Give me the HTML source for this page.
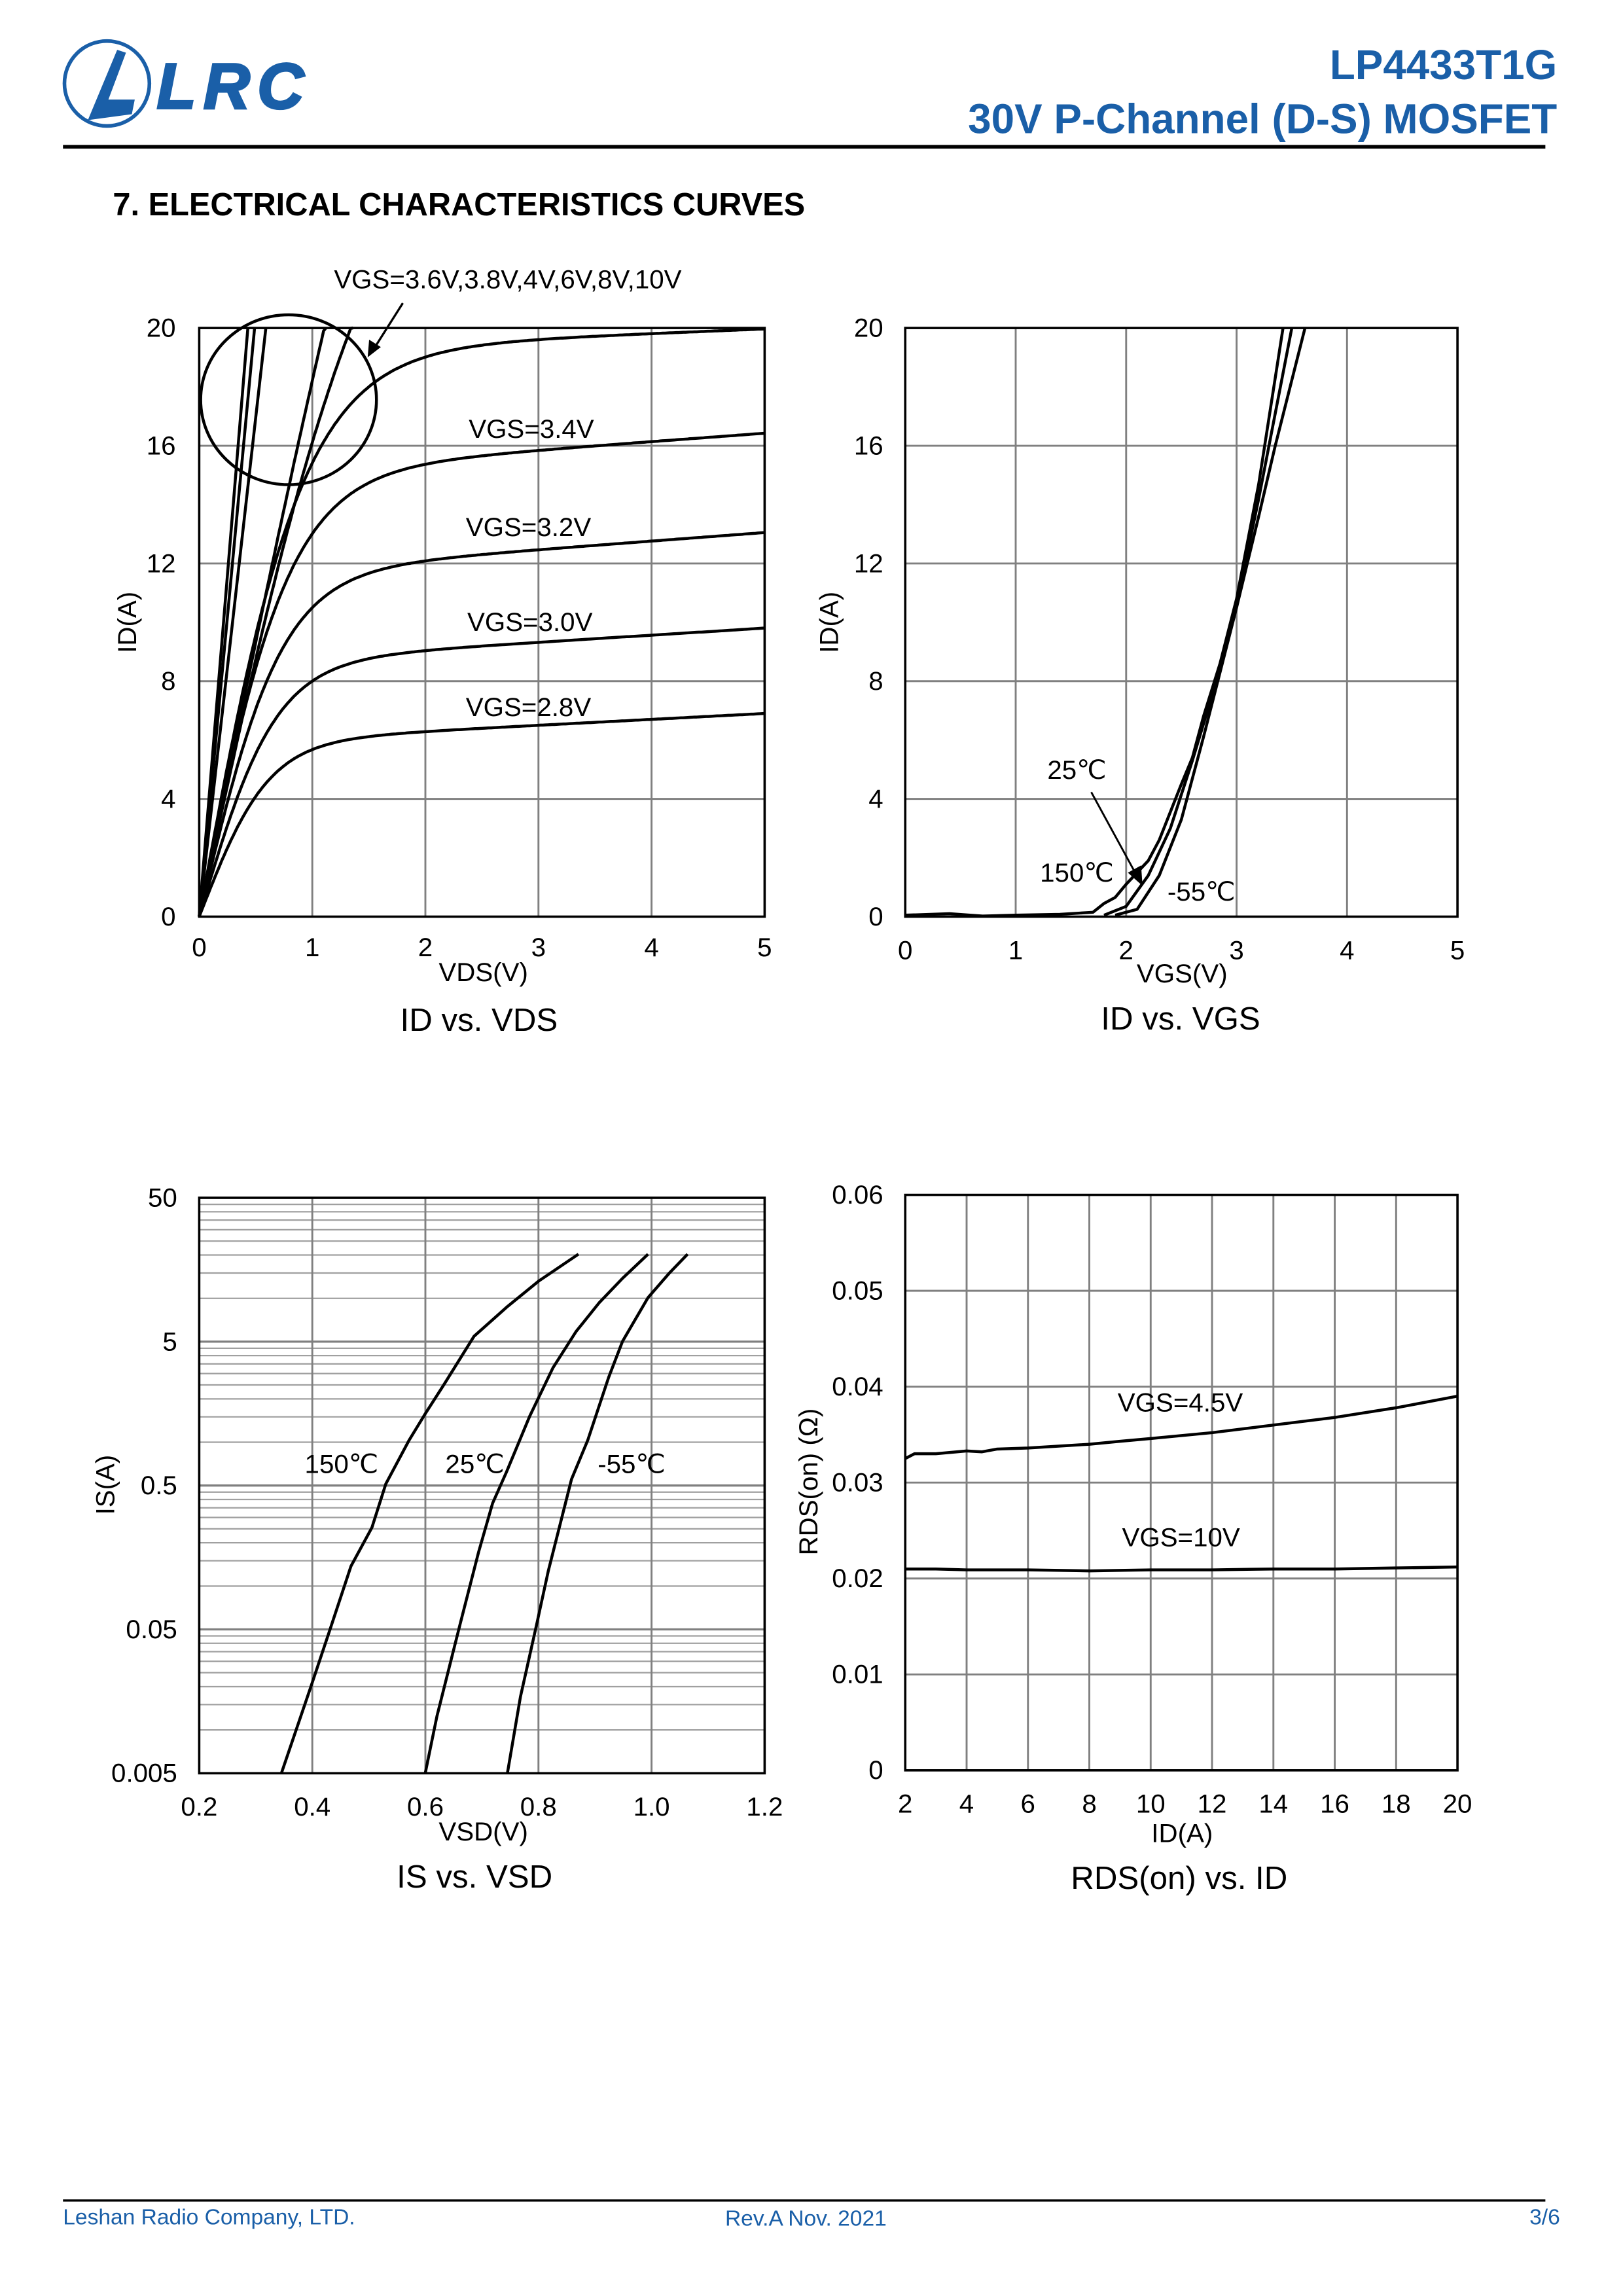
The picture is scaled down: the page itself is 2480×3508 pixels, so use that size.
<!DOCTYPE html>
<html><head><meta charset="utf-8">
<style>
html,body{margin:0;padding:0;background:#fff;}
svg{display:block;}
text{font-family:"Liberation Sans",Arial,sans-serif;}
</style></head>
<body>
<svg id="s" width="2480" height="3508" viewBox="0 0 1108 1568" preserveAspectRatio="none" xmlns="http://www.w3.org/2000/svg">
<rect width="1108" height="1568" fill="#fff"/>
<!-- header -->
<circle cx="73" cy="57" r="29" fill="none" stroke="#1a5fa8" stroke-width="2.5"/>
<path d="M60 82 L80 34 L86 36 L74 68 L92 68 L90 78 Z" fill="#1a5fa8"/>
<text x="107" y="74" font-size="44" font-weight="bold" font-style="italic" fill="#1a5fa8" letter-spacing="5" stroke="#1a5fa8" stroke-width="1.5">LRC</text>
<text x="1063" y="54" font-size="28.5" font-weight="bold" fill="#1a5fa8" text-anchor="end">LP4433T1G</text>
<text x="1063" y="91" font-size="28.5" font-weight="bold" fill="#1a5fa8" text-anchor="end">30V P-Channel (D-S) MOSFET</text>
<rect x="43" y="99" width="1012" height="2.5" fill="#000"/>
<text x="77" y="147" font-size="21.8" font-weight="bold">7. ELECTRICAL CHARACTERISTICS CURVES</text>
<g id="g"></g>
<!-- footer -->
<rect x="43" y="1502" width="1012" height="1.5" fill="#000"/>
<text x="43" y="1519" font-size="15" fill="#1a5fa8">Leshan Radio Company, LTD.</text>
<text x="495" y="1520" font-size="15" fill="#1a5fa8">Rev.A  Nov. 2021</text>
<text x="1065" y="1519" font-size="15" fill="#1a5fa8" text-anchor="end">3/6</text>
</svg>
<script>
var o='';
var FS=18;
function L(x1,y1,x2,y2,c,w){o+='<line x1="'+x1+'" y1="'+y1+'" x2="'+x2+'" y2="'+y2+'" stroke="'+c+'" stroke-width="'+w+'"/>';}
function T(x,y,s,t,a,ex){o+='<text x="'+x+'" y="'+y+'" font-size="'+s+'" text-anchor="'+(a||'start')+'" '+(ex||'')+'>'+t+'</text>';}
function P(pts,w){o+='<path d="M'+pts.map(function(p){return p[0].toFixed(1)+' '+p[1].toFixed(1)}).join(' L')+'" fill="none" stroke="#000" stroke-width="'+(w||2)+'" stroke-linejoin="round"/>';}
function frame(x0,y0,x1,y1){o+='<rect x="'+x0+'" y="'+y0+'" width="'+(x1-x0)+'" height="'+(y1-y0)+'" fill="none" stroke="#000" stroke-width="1.6"/>';}
var G='#808080';
// ---- Plot 1
var a0=136,a1=522,b0=224,b1=626;
for(var i=1;i<5;i++){var x=a0+i*(a1-a0)/5;L(x,b0,x,b1,G,1.3);}
for(var i=1;i<5;i++){var y=b1-i*(b1-b0)/5;L(a0,y,a1,y,G,1.3);}
frame(a0,b0,a1,b1);
for(var i=0;i<=5;i++){T(a0+i*(a1-a0)/5,653,FS,i,'middle');T(120,b1-i*(b1-b0)/5+6,FS,i*4,'end');}
T(330,670,FS,'VDS(V)','middle');T(327,704,22,'ID vs. VDS','middle');
T(93,425,FS,'ID(A)','middle','transform="rotate(-90 93 425)"');
function X1(v){return a0+v*(a1-a0)/5;} function Y1(i){return b1-i*(b1-b0)/20;}
function curve(Is,lam,g){var p=[];for(var v=0;v<=5.001;v+=0.02){var I=Is*(1+lam*v)*Math.tanh(g*v/Is);if(I>20){p.push([X1(v),Y1(20)]);break;}p.push([X1(v),Y1(I)]);}return p;}
P(curve(5.9,0.034,9.8));P(curve(8.6,0.028,12.9));P(curve(11.6,0.025,16.1));P(curve(15,0.019,18.9));P(curve(19.2,0.008,20.9));
P(curve(30,0,18));P(curve(60,0,18.8));
[0.43,0.49,0.59].forEach(function(v){P([[X1(0),Y1(0)],[X1(v),Y1(20)]]);});
T(320,299,FS,'VGS=3.4V');T(318,366,FS,'VGS=3.2V');T(319,431,FS,'VGS=3.0V');T(318,489,FS,'VGS=2.8V');
T(228,197,FS,'VGS=3.6V,3.8V,4V,6V,8V,10V');
o+='<ellipse cx="197" cy="273" rx="60" ry="58" fill="none" stroke="#000" stroke-width="2"/>';
L(275,207,256,237,'#000',1.5);o+='<path d="M251 244 L252 232 L260 237 Z" fill="#000"/>';
// ---- Plot 2
var c0=618,c1=995;
for(var i=1;i<5;i++){var x=c0+i*(c1-c0)/5;L(x,b0,x,b1,G,1.3);}
for(var i=1;i<5;i++){var y=b1-i*(b1-b0)/5;L(c0,y,c1,y,G,1.3);}
frame(c0,b0,c1,b1);
for(var i=0;i<=5;i++){T(c0+i*(c1-c0)/5,655,FS,i,'middle');T(603,b1-i*(b1-b0)/5+6,FS,i*4,'end');}
T(807,671,FS,'VGS(V)','middle');T(806,703,22,'ID vs. VGS','middle');
T(572,425,FS,'ID(A)','middle','transform="rotate(-90 572 425)"');
function X2(v){return c0+v*(c1-c0)/5;}
function sm(pts){var p=[];for(var k=0;k<pts.length;k++)p.push([X2(pts[k][0]),Y1(pts[k][1])]);return p;}
P(sm([[0,0.05],[0.4,0.1],[0.7,0.02],[1,0.05],[1.4,0.08],[1.7,0.15],[1.8,0.45],[1.9,0.65],[2.0,1.1],[2.2,1.9],[2.3,2.6],[2.5,4.5],[2.6,5.4],[2.7,6.8],[2.85,8.6],[3.0,10.8],[3.2,14.7],[3.42,20]]));
P(sm([[1.8,0.05],[2.0,0.35],[2.2,1.4],[2.4,3],[2.6,5.3],[2.85,8.4],[3.0,10.6],[3.2,14.2],[3.5,20]]));
P(sm([[1.9,0.05],[2.1,0.25],[2.3,1.4],[2.5,3.3],[2.7,6.1],[2.85,8.3],[3.0,10.5],[3.2,13.6],[3.35,16],[3.62,20]]));
T(715,532,FS,'25℃');T(710,602,FS,'150℃');T(797,615,FS,'-55℃');
L(745,541,775,596,'#000',1.3);o+='<path d="M780 605 L770 596 L779 591 Z" fill="#000"/>';
// ---- Plot 3 (log)
var d0=136,d1=522,e0=818,e1=1211,dec=(e1-e0)/4;
for(var d=0;d<4;d++){for(var k=2;k<=9;k++){var y=e1-(d+Math.log10(k))*dec;L(d0,y,d1,y,'#a0a0a0',1);}}
for(var d=1;d<4;d++){var y=e1-d*dec;L(d0,y,d1,y,G,1.5);}
for(var i=1;i<5;i++){var x=d0+i*(d1-d0)/5;L(x,e0,x,e1,G,1.3);}
frame(d0,e0,d1,e1);
var xl=['0.2','0.4','0.6','0.8','1.0','1.2'],yl=['0.005','0.05','0.5','5','50'];
for(var i=0;i<=5;i++)T(d0+i*(d1-d0)/5,1240,FS,xl[i],'middle');
for(var i=0;i<=4;i++)T(121,e1-i*dec+6,FS,yl[i],'end');
T(330,1257,FS,'VSD(V)','middle');T(324,1289,22,'IS vs. VSD','middle');
T(78,1014,FS,'IS(A)','middle','transform="rotate(-90 78 1014)"');
function cz(pts){return pts.map(function(p){return [136+(p[0]-248)*0.3169,1211-(1258-p[1])*0.3304];});}
P(cz([[425,1258],[490,1075],[530,960],[575,830],[620,750],[650,660],[700,570],[735,515],[775,455],[840,355],[910,295],[980,240],[1065,185]]));
P(cz([[735,1258],[760,1140],[810,950],[850,800],[880,700],[910,635],[960,520],[1010,420],[1060,345],[1110,285],[1160,235],[1215,185]]));
P(cz([[912,1258],[940,1100],[975,950],[1000,840],[1050,650],[1085,570],[1130,440],[1160,365],[1215,275],[1260,225],[1300,185]]));
T(208,1006,FS,'150℃');T(304,1006,FS,'25℃');T(408,1006,FS,'-55℃');
// ---- Plot 4
var f0=618,f1=995,h0=816,h1=1209;
for(var i=1;i<9;i++){var x=f0+i*(f1-f0)/9;L(x,h0,x,h1,G,1.3);}
for(var i=1;i<6;i++){var y=h1-i*(h1-h0)/6;L(f0,y,f1,y,G,1.3);}
frame(f0,h0,f1,h1);
for(var i=0;i<=9;i++)T(f0+i*(f1-f0)/9,1238,FS,2+2*i,'middle');
var yl4=['0','0.01','0.02','0.03','0.04','0.05','0.06'];
for(var i=0;i<=6;i++)T(603,h1-i*(h1-h0)/6+6,FS,yl4[i],'end');
T(807,1258,FS,'ID(A)','middle');T(805,1290,22,'RDS(on) vs. ID','middle');
T(558,1012,FS,'RDS(on) (Ω)','middle','transform="rotate(-90 558 1012)"');
function X4(v){return f0+(v-2)*(f1-f0)/18;} function Y4(r){return h1-r*(h1-h0)/0.06;}
var r45=[[2,0.0325],[2.3,0.033],[3,0.033],[4,0.0333],[4.5,0.0332],[5,0.0335],[6,0.0336],[7,0.0338],[8,0.034],[9,0.0343],[10,0.0346],[12,0.0352],[14,0.036],[16,0.0368],[18,0.0378],[20,0.039]];
P(r45.map(function(p){return [X4(p[0]),Y4(p[1])];}));
var r10=[[2,0.021],[3,0.021],[4,0.0209],[6,0.0209],[8,0.0208],[10,0.0209],[12,0.0209],[14,0.021],[16,0.021],[18,0.0211],[20,0.0212]];
P(r10.map(function(p){return [X4(p[0]),Y4(p[1])];}));
T(763,964,FS,'VGS=4.5V');T(766,1056,FS,'VGS=10V');
document.getElementById('g').innerHTML=o;
</script>
</body></html>
